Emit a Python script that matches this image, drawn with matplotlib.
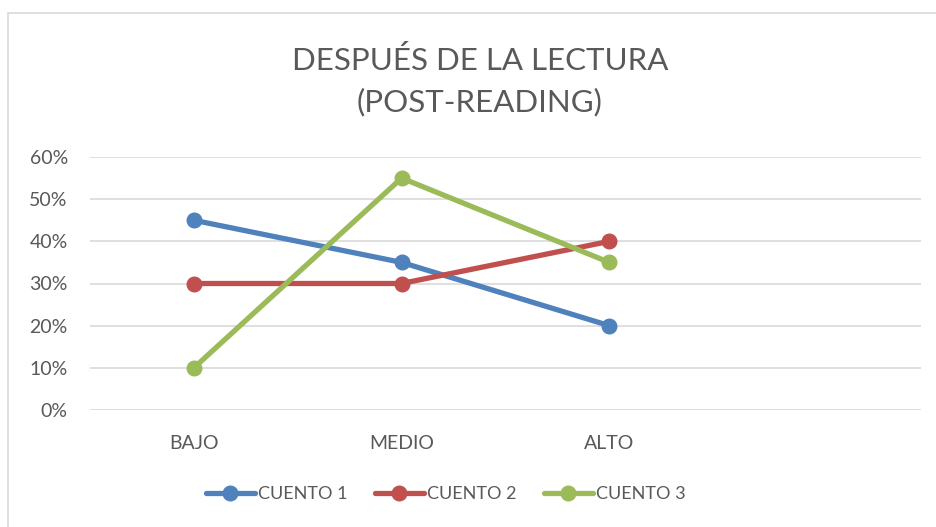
import numpy as np
import matplotlib.pyplot as plt
from matplotlib.patches import Rectangle

# data (4th category is empty in the original)
categories = ['BAJO', 'MEDIO', 'ALTO', '']
cuento1 = [0.45, 0.35, 0.20, np.nan]
cuento2 = [0.30, 0.30, 0.40, np.nan]
cuento3 = [0.10, 0.55, 0.35, np.nan]
series_names = ['CUENTO 1', 'CUENTO 2', 'CUENTO 3']
colors = ['#4F81BD', '#C0504D', '#9BBB59']
yticks = [0, 0.1, 0.2, 0.3, 0.4, 0.5, 0.6]

plt.rcParams['font.family'] = ['Lato', 'DejaVu Sans']
textcol = '#595959'

fig = plt.figure(figsize=(9.36, 5.27), dpi=100)
fig.patches.append(Rectangle((8 / 936, -0.1), 1.2, (527 - 13) / 527 + 0.1,
                             transform=fig.transFigure, fill=False,
                             edgecolor='#D9D9D9', linewidth=1.2))
ax = fig.add_axes([90 / 936, 1 - 410 / 527, (921 - 90) / 936, (410 - 157) / 527])

x = np.arange(len(categories))
for vals, name, c in zip([cuento1, cuento2, cuento3], series_names, colors):
    ax.plot(x, vals, color=c, linewidth=3.8, marker='o', markersize=10.5,
            label=name, solid_capstyle='round')

ax.set_xlim(-0.5, 3.5)
ax.set_ylim(0, 0.6)
ax.set_yticks(yticks)
ax.set_yticklabels([f'{int(round(v * 100))}%' for v in yticks])
ax.set_xticks(x)
ax.set_xticklabels(categories)
ax.grid(axis='y', color='#D9D9D9', linewidth=1.2)
ax.set_axisbelow(True)
for s in ax.spines.values():
    s.set_visible(False)
ax.tick_params(length=0, labelsize=14, colors=textcol, pad=16)
ax.tick_params(axis='x', pad=18)

fig.text(480 / 936, 1 - 81 / 527, 'DESPUÉS DE LA LECTURA\n(POST-READING)',
         ha='center', va='center', fontsize=22.5, color=textcol, linespacing=1.55)

fig.legend(loc='center', bbox_to_anchor=(446 / 936, 1 - 494 / 527), ncol=3,
           frameon=False, fontsize=13, labelcolor=textcol, handlelength=2.7,
           handletextpad=0.2, columnspacing=1.5)

fig.savefig('out.png', dpi=100)
